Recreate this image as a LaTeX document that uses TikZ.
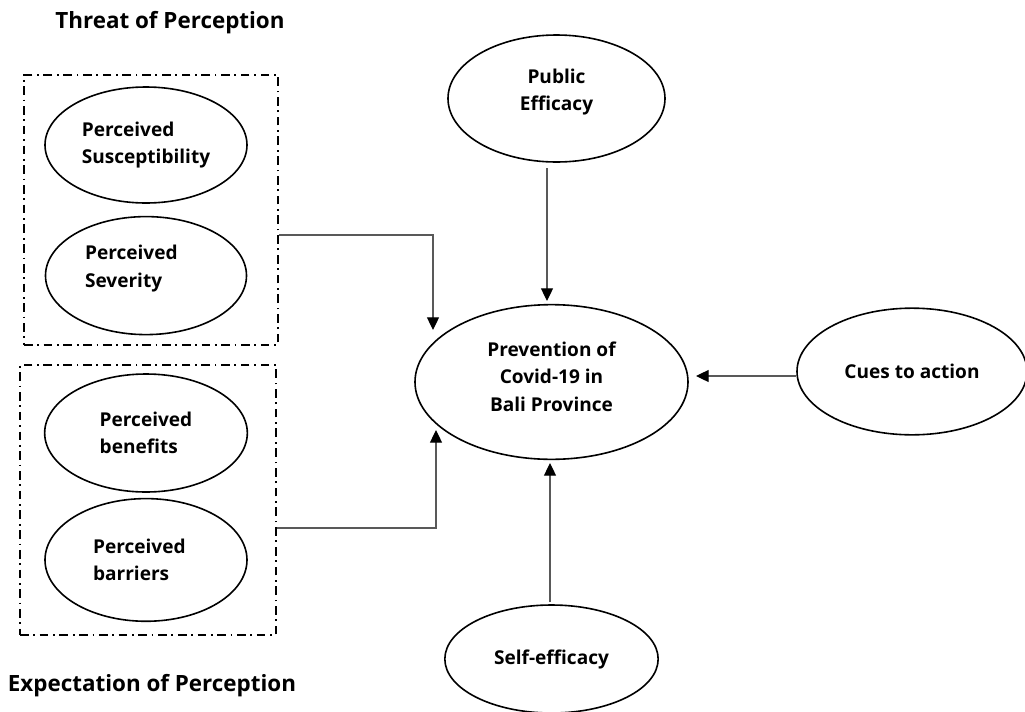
\documentclass[tikz,border=0pt]{standalone}
\usepackage{fontspec}
\setmainfont{Open Sans}
\usepackage{tikz}
\usetikzlibrary{shapes.geometric,arrows.meta,positioning,fit}

\tikzset{
  oval/.style={ellipse, draw=black, line width=1.2pt, inner sep=0pt, align=center,
    font=\bfseries\fontsize{14.3}{20.3}\selectfont},
  grpbox/.style={draw=black, line width=1.4pt, inner sep=0pt,
    dash pattern=on 6.5pt off 3.5pt on 1.3pt off 3.5pt},
  heading/.style={font=\bfseries\fontsize{16.8}{20}\selectfont},
  link/.style={draw=black!65, line width=0.9pt, -{Triangle[length=9.5pt,width=9pt,black]}}
}

\begin{document}
\begin{tikzpicture}[x=0.75pt, y=-0.75pt]
\useasboundingbox (0,0) rectangle (1025,711);

% threat group
\node [heading] (threattitle) at (170,23) {Threat of Perception};
\node [oval, align=left, minimum width=151.5pt, minimum height=87pt] (suscep) at (146,145) {Perceived\\Susceptibility};
\node [oval, align=left, minimum width=150.75pt, minimum height=88.5pt, text depth=14pt, below=9pt of suscep] (sever) {Perceived\hspace*{22pt}\\Severity};
\node [grpbox, fit={(24,75) (278,345)}] (threat) {};

% expectation group
\node [oval, align=left, minimum width=152pt, minimum height=88.5pt] (benef) at (146,433) {Perceived\\benefits};
\node [oval, align=left, minimum width=151.5pt, minimum height=92pt, below=3.75pt of benef] (barr) {Perceived\hspace*{10pt}\\barriers};
\node [grpbox, fit={(20,365) (276,635)}] (expect) {};
\node [heading] (expecttitle) at (152,686) {Expectation of Perception};

% main constructs
\node [oval, minimum width=162.75pt, minimum height=95.25pt, text depth=12.5pt] (public) at (556.5,98.5) {Public\\Efficacy};
\node [oval, minimum width=204.75pt, minimum height=116pt, text depth=8pt] (prev) at (551.5,382) {Prevention of\\Covid-19 in\\Bali Province};
\node [oval, minimum width=172.5pt, minimum height=95pt] (cues) at (912,371.5) {Cues to action};
\node [oval, minimum width=160pt, minimum height=81pt] (selfeff) at (551.5,659) {Self-efficacy};

% arrow ends
\coordinate (threatin) at (433,330);
\coordinate (expectin) at (436,430);
\coordinate (pubin) at (547,301);
\coordinate (cuesin) at (696,376);
\coordinate (selfin) at (550,463);

\draw [link] ([yshift=-18.75pt]threat.east) -| (threatin);
\draw [link] ([yshift=-21pt]expect.east) -| (expectin);
\draw [link] ([yshift=-4pt]pubin |- public.south) -- (pubin);
\draw [link] (cues.west |- cuesin) -- (cuesin);
\draw [link] ([yshift=1.5pt]selfin |- selfeff.north) -- (selfin);

\end{tikzpicture}
\end{document}
